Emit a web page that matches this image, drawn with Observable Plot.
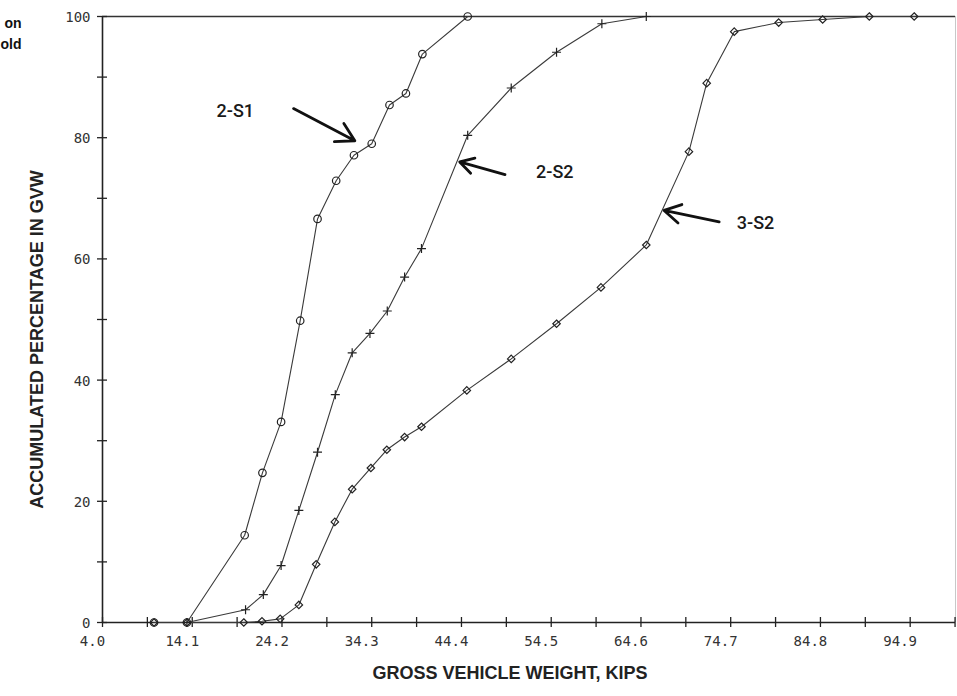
<!DOCTYPE html>
<html><head><meta charset="utf-8">
<script src="https://cdn.jsdelivr.net/npm/d3@7"></script>
<script src="https://cdn.jsdelivr.net/npm/@observablehq/plot@0.6"></script>
<style>body{margin:0;background:#fff;} svg{display:block}</style>
</head><body><div id="chart"></div>
<script>
// ---- data ----
const seriesNames = ["2-S1", "2-S2", "3-S2"];

const s1x = [9.8, 13.5, 20.0, 22.0, 24.1, 26.25, 28.2, 30.3, 32.3, 34.3, 36.3, 38.15, 40.0, 45.1];
const s1y = [0, 0, 14.4, 24.7, 33.1, 49.8, 66.6, 72.9, 77.1, 79.0, 85.4, 87.3, 93.8, 100];

const s2x = [13.5, 20.1, 22.1, 24.1, 26.1, 28.2, 30.2, 32.1, 34.1, 36.05, 38.0, 39.9, 45.1, 50.0, 55.1, 60.2, 65.2];
const s2y = [0, 2.1, 4.6, 9.4, 18.5, 28.1, 37.6, 44.5, 47.7, 51.4, 57.0, 61.7, 80.4, 88.2, 94.1, 98.8, 100];

const s3x = [9.8, 13.5, 19.9, 21.95, 24.0, 26.1, 28.05, 30.15, 32.1, 34.2, 36.0, 38.0, 39.9, 45.0, 50.0, 55.1, 60.1, 65.2, 70.0, 72.0, 75.1, 80.1, 85.05, 90.3, 95.35];
const s3y = [0, 0, 0, 0.2, 0.6, 2.9, 9.6, 16.6, 22.0, 25.5, 28.5, 30.6, 32.3, 38.3, 43.5, 49.3, 55.3, 62.3, 77.7, 89.0, 97.5, 99.0, 99.5, 100, 100];

const xTickValues = [4.0, 14.1, 24.2, 34.3, 44.4, 54.5, 64.6, 74.7, 84.8, 94.9];
const xTickLabels = ["4.0", "14.1", "24.2", "34.3", "44.4", "54.5", "64.6", "74.7", "84.8", "94.9"];
const xMinorTicks = [9.05, 19.15, 29.25, 39.35, 49.45, 59.55, 69.65, 79.75, 89.85, 99.95];
const yTickValues = [0, 20, 40, 60, 80, 100];
const yTickLabels = ["0", "20", "40", "60", "80", "100"];
const yMinorTicks = [10, 30, 50, 70, 90];

const xTitle = "GROSS VEHICLE WEIGHT, KIPS";
const yTitle = "ACCUMULATED PERCENTAGE IN GVW";
const cutText = ["on", "old"];

// annotations: label positions and arrows (data units)
const annLabelX = [18.95, 54.9, 77.5];
const annLabelY = [84.3, 74.3, 65.9];
const arrowX1 = [25.5, 49.3, 73.4];
const arrowY1 = [84.8, 73.9, 66.1];
const arrowX2 = [32.4, 44.2, 67.2];
const arrowY2 = [79.5, 76.0, 68.0];

// ---- build tables ----
const seriesX = [s1x, s2x, s3x];
const seriesY = [s1y, s2y, s3y];
const rows = seriesNames.flatMap((name, k) => seriesX[k].map((x, i) => ({series: name, x, y: seriesY[k][i]})));
const ann = seriesNames.map((name, i) => ({
  text: name, x: annLabelX[i], y: annLabelY[i],
  x1: arrowX1[i], y1: arrowY1[i], x2: arrowX2[i], y2: arrowY2[i]
}));
const symbolOf = {"2-S1": "circle", "2-S2": "plus", "3-S2": "diamond2"};
const rOf = {"2-S1": 5, "2-S2": 3.2, "3-S2": 4};

const tickFont = "DejaVu Sans Mono";
const titleFont = "Liberation Sans, Arial, sans-serif";

const chart = Plot.plot({
  width: 957,
  height: 696,
  marginLeft: 102,
  marginRight: 2,
  marginTop: 16,
  marginBottom: 74,
  x: {domain: [4, 100], axis: null},
  y: {domain: [0, 100], axis: null},
  style: {background: "#fff", color: "#222", overflow: "visible"},
  marks: [
    // frame
    Plot.ruleX([100], {stroke: "#c8c8c8", strokeWidth: 1}),
    Plot.ruleY([100], {stroke: "#333", strokeWidth: 1.4}),
    Plot.ruleX([4], {stroke: "#222", strokeWidth: 1.6}),
    Plot.ruleY([0], {stroke: "#222", strokeWidth: 1.6}),
    // cross ticks
    Plot.ruleX([...xTickValues, ...xMinorTicks], {x: d => d, y1: 0, y2: 0, insetTop: -5, insetBottom: -5, stroke: "#222", strokeWidth: 1.3}),
    Plot.ruleY([...yTickValues, ...yMinorTicks], {y: d => d, x1: 4, x2: 4, insetLeft: -5, insetRight: -5, stroke: "#222", strokeWidth: 1.3}),
    // tick labels
    Plot.text(xTickValues, {x: d => d, y: 0, text: (d, i) => xTickLabels[i], dy: 19, dx: -10, fontFamily: tickFont, fontSize: 14, fill: "#333"}),
    Plot.text(yTickValues, {x: 4, y: d => d, text: (d, i) => yTickLabels[i], dx: -12, dy: 1, textAnchor: "end", fontFamily: tickFont, fontSize: 14, fill: "#333"}),
    // series
    Plot.line(rows, {x: "x", y: "y", z: "series", stroke: "#3a3a3a", strokeWidth: 1.1}),
    Plot.dot(rows, {x: "x", y: "y", symbol: d => symbolOf[d.series], r: d => rOf[d.series], stroke: "#222", strokeWidth: 1.2, fill: "none"}),
    // annotations
    Plot.arrow(ann, {x1: "x1", y1: "y1", x2: "x2", y2: "y2", stroke: "#111", strokeWidth: 2.8, headLength: 11}),
    Plot.text(ann, {x: "x", y: "y", text: "text", fontFamily: "Roboto, Liberation Sans, sans-serif", fontWeight: 500, fontSize: 18, fill: "#1a1a1a"}),
    // titles
    Plot.text([xTitle], {frameAnchor: "bottom", textAnchor: "middle", dx: -19, dy: 56, fontFamily: titleFont, fontSize: 18, fontWeight: "bold", fill: "#222"}),
    Plot.text([yTitle], {frameAnchor: "left", textAnchor: "middle", dx: -65, dy: 20, rotate: -90, fontFamily: titleFont, fontSize: 18, fontWeight: "bold", fill: "#222"}),
    // fragments of a cut-off heading at the top-left edge
    Plot.text([cutText[0]], {frameAnchor: "top-left", textAnchor: "end", dx: -81, dy: 2, fontFamily: titleFont, fontSize: 14, fontWeight: "bold", fill: "#111"}),
    Plot.text([cutText[1]], {frameAnchor: "top-left", textAnchor: "end", dx: -81, dy: 23, fontFamily: titleFont, fontSize: 14, fontWeight: "bold", fill: "#111"})
  ]
});
document.getElementById("chart").appendChild(chart);
</script>
</body></html>
